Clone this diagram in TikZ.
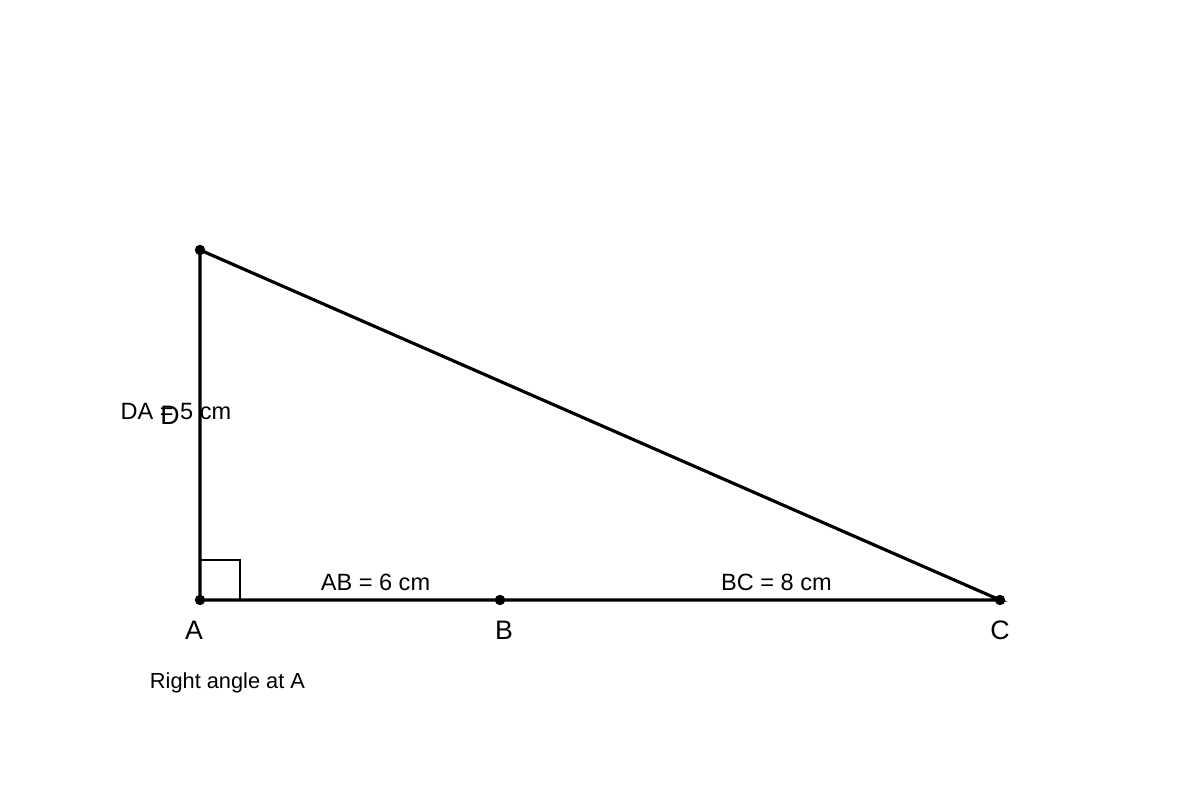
\documentclass[tikz,border=0pt]{standalone}
\usepackage{fontspec}
\setmainfont{Liberation Sans}
\usetikzlibrary{positioning}
\tikzset{
  side/.style={black,line width=0.9pt},
  pt/.style={fill=black},
  vlabel/.style={font=\fontsize{7.6}{9}\selectfont,inner sep=0pt},
  lenlabel/.style={font=\fontsize{6.7}{8}\selectfont,inner sep=0pt},
  notelabel/.style={font=\fontsize{6.2}{7.5}\selectfont,inner sep=0pt}
}
\begin{document}
\begin{tikzpicture}
    \useasboundingbox (0,0) rectangle (12,8);
    \coordinate (A) at (2,2);
    \coordinate (B) at (5,2);
    \coordinate (C) at (10,2);
    \coordinate (D) at (2,5.5);
    % right angle mark
    \draw[black,line width=0.55pt] (2,2.4) -- (2.4,2.4) -- (2.4,2);
    \draw[side] (A) -- (C) -- (D) -- cycle;
    \foreach \p in {A,B,C,D} {
        \fill[pt] (\p) circle [radius=0.052];
    }
    \node[vlabel] (lA) at (1.94,1.7) {A};
    \node[vlabel] (lB) at (5.04,1.7) {B};
    \node[vlabel] (lC) at (10,1.7) {C};
    \node[lenlabel] (lDA) at (1.76,3.88) {DA = 5 cm};
    \node[vlabel] (lD) at (1.7,3.85) {D};
    \node[lenlabel] (lAB) at (3.755,2.18) {AB = 6 cm};
    \node[lenlabel] (lBC) at (7.765,2.18) {BC = 8 cm};
    \node[notelabel] (note) at (2.275,1.17) {Right angle at A};
\end{tikzpicture}
\end{document}
